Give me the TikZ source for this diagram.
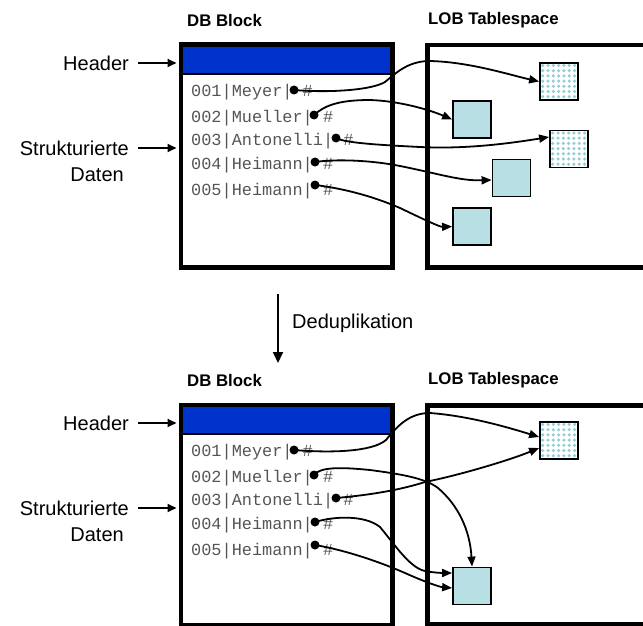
\documentclass[tikz,border=0pt]{standalone}
\usepackage{fontspec}
\setmainfont{Liberation Sans}
\setmonofont{Liberation Mono}
\usetikzlibrary{arrows.meta,calc}
\definecolor{hdrblue}{HTML}{0033CC}
\definecolor{lobfill}{HTML}{B8DFE3}
\definecolor{dotcyan}{HTML}{94CED8}
\definecolor{rowgray}{HTML}{555555}
\tikzset{
  bigframe/.style={draw, line width=4.5pt, inner sep=0pt},
  ttl/.style={font=\fontsize{16.8}{20}\selectfont\bfseries, anchor=west, inner sep=0pt},
  lbl/.style={font=\fontsize{20}{23}\selectfont, inner sep=0pt},
  rowtxt/.style={font=\fontsize{16.9}{20}\selectfont\ttfamily, text=rowgray, anchor=base west, inner sep=0pt},
  rdot/.style={circle, fill=black, minimum size=9pt, inner sep=0pt},
  lobsolid/.style={draw, line width=1.8pt, fill=lobfill, minimum width=38pt, minimum height=37pt, inner sep=0pt},
  lobhatch/.style={draw, line width=1.8pt, fill=white, minimum width=38pt, minimum height=37pt, inner sep=0pt},
  lnk/.style={line width=1.8pt, -{Triangle[length=10pt,width=8pt]}},
  lblarrow/.style={line width=2pt, -{Triangle[length=9pt,width=8pt]}, shorten >=2pt},
}
\newcommand\hatchdots[1]{%
  \foreach \i in {0,...,6}{\foreach \j in {0,...,6}{%
    \fill[dotcyan] ($(#1.north west)+(3.6+5.3*\i,3.4+5.2*\j)$) circle (1.75pt);}}}
% #1 prefix, #2 y offset, #3 DB block height, #4 LOB height
\newcommand\dbhalf[4]{%
  \begin{scope}[yshift=-#2pt]
    \node[ttl] (#1dbt) at (187,20) {DB Block};
    \node[ttl] (#1lobt) at (428,20) {LOB Tablespace};
    \fill[hdrblue] (178.5,42.5) rectangle (390,74);
    \draw[line width=1.5pt] (178.5,74) -- (390,74);
    \node[bigframe, minimum width=211.5pt, minimum height=#3pt, anchor=north west] (#1db) at (178.5,42.5) {};
    \node[bigframe, minimum width=280pt, minimum height=#4pt, anchor=north west] (#1lob) at (425,43) {};
    \node[rowtxt] (#1r1) at (191,96) {001|Meyer| \#};
    \node[rowtxt] (#1r2) at (191,122) {002|Mueller| \#};
    \node[rowtxt] (#1r3) at (191,145) {003|Antonelli| \#};
    \node[rowtxt] (#1r4) at (191,169) {004|Heimann| \#};
    \node[rowtxt] (#1r5) at (191,195) {005|Heimann| \#};
    \node[rdot] (#1d1) at (294,90) {};
    \node[rdot] (#1d2) at (314,115) {};
    \node[rdot] (#1d3) at (336,138) {};
    \node[rdot] (#1d4) at (315,162) {};
    \node[rdot] (#1d5) at (315,185) {};
    \node[lbl, anchor=east] (#1hdr) at (129,63) {Header};
    \node[lbl, anchor=east] (#1st) at (129,148) {Strukturierte};
    \node[lbl, anchor=east] (#1da) at (124,175) {Daten};
    \draw[lblarrow] ([xshift=9pt]#1hdr.east) -- (#1hdr.east -| #1db.west);
    \draw[lblarrow] ([xshift=9pt]#1st.east) -- (#1st.east -| #1db.west);
  \end{scope}}
\begin{document}
\begin{tikzpicture}[x=1pt,y=-1pt]
\useasboundingbox (0,0) rectangle (643,626);
\dbhalf{t}{0}{222.5}{222}
\dbhalf{b}{360}{220}{219}
% LOB boxes, top
\node[lobhatch] (tH1) at (559,81.5) {};
\hatchdots{tH1}
\node[lobsolid] (tS2) at (472,119.5) {};
\node[lobhatch] (tH3) at (569,149) {};
\hatchdots{tH3}
\node[lobsolid] (tS4) at (511.5,178) {};
\node[lobsolid] (tS5) at (472,226.5) {};
% LOB boxes, bottom
\node[lobhatch] (bH) at (559,440.5) {};
\hatchdots{bH}
\node[lobsolid] (bS) at (472,586) {};
% dedup arrow
\coordinate (dedupA) at (278,294);
\coordinate (dedupB) at (278,363);
\draw[line width=2pt, -{Triangle[length=11pt,width=10pt]}] (dedupA) -- (dedupB);
\node[lbl, anchor=west] (dedup) at (292,323) {Deduplikation};
% top links
\draw[lnk] (td1.center) .. controls (330,93) and (372,90) .. (385,82) .. controls (396,73) and (408,61) .. (430,61) .. controls (470,62) and (510,75) .. (tH1.west);
\draw[lnk] (td2.center) .. controls (325,105) and (340,100) .. (370,100) .. controls (400,101) and (430,110) .. (tS2.west);
\draw[lnk] (td3.center) .. controls (345,143) and (380,145) .. (420,147) .. controls (460,149) and (500,145) .. ([yshift=12pt]tH3.west);
\draw[lnk] (td4.center) .. controls (335,159) and (370,160) .. (400,166) .. controls (440,174) and (460,181) .. ([yshift=-2pt]tS4.west);
\draw[lnk] (td5.center) .. controls (340,188) and (370,195) .. (400,208) .. controls (425,220) and (440,227) .. (tS5.west);
% bottom links
\draw[lnk] (bd1.center) .. controls (330,453) and (372,452) .. (386,440) .. controls (398,425) and (410,413) .. (430,413) .. controls (470,416) and (510,428) .. ([yshift=3.5pt]bH.west);
\draw[lnk] (bd2.center) .. controls (320,467) and (340,467) .. (370,470) .. controls (400,474) and (425,478) .. (438,488) .. controls (458,505) and (470,530) .. (bS.north);
\draw[lnk] (bd3.center) .. controls (370,495) and (400,490) .. (425,482) .. controls (460,475) and (510,460) .. ([yshift=-7.5pt]bH.west);
\draw[lnk] (bd4.center) .. controls (335,516) and (365,515) .. (380,527) .. controls (395,545) and (410,568) .. (425,571) .. controls (435,573) and (445,573) .. ([yshift=13pt]bS.west);
\draw[lnk] (bd5.center) .. controls (345,550) and (380,562) .. (405,573) .. controls (425,582) and (440,587) .. ([yshift=-2pt]bS.west);
\end{tikzpicture}
\end{document}
